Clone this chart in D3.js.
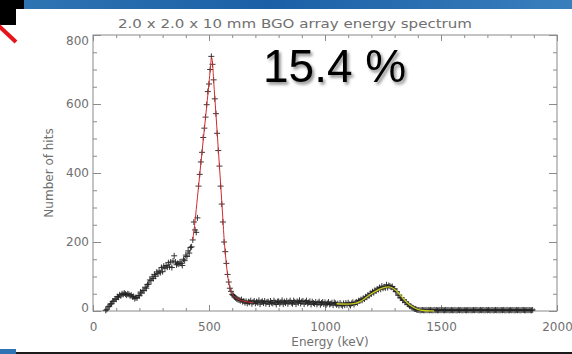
<!DOCTYPE html>
<html>
<head>
<meta charset="utf-8">
<script src="https://cdn.jsdelivr.net/npm/d3@7/dist/d3.min.js"></script>
<style>
  html, body { margin: 0; padding: 0; background: #fff; overflow: hidden; }
  text { font-family: "DejaVu Sans", sans-serif; }
</style>
</head>
<body>
<svg id="chart" width="572" height="354"></svg>
<script>
// histogram bins: centre of first bin and bin width (keV)
const BIN_START = 55;
const BIN_WIDTH = 5;

// counts per bin, 20 bins (100 keV) per row
const hits = [
  2, 5, 12, 14, 20, 21, 28, 29, 35, 34, 42, 40, 47, 44, 50, 48, 52, 49, 46, 50,
  48, 44, 46, 41, 42, 36, 39, 38, 45, 44, 55, 52, 60, 59, 69, 66, 77, 78, 90, 88,
  99, 94, 106, 101, 113, 108, 116, 111, 126, 114, 130, 124, 132, 127, 140, 128, 142, 126, 145, 160,
  142, 134, 138, 136, 142, 138, 132, 150, 146, 162, 158, 174, 168, 184, 186, 206, 258, 235, 228, 270,
  362, 396, 432, 460, 503, 530, 562, 598, 636, 658, 700, 738, 715, 670, 615, 572, 515, 465, 420, 362,
  310, 258, 200, 172, 138, 106, 84, 66, 57, 48, 45, 41, 38, 35, 33, 32, 30, 33, 27, 29,
  24, 28, 22, 27, 25, 30, 21, 26, 29, 22, 27, 24, 31, 20, 26, 28, 23, 29, 21, 26,
  27, 20, 29, 24, 22, 30, 25, 19, 27, 28, 21, 25, 31, 20, 27, 23, 29, 21, 26, 30,
  24, 21, 30, 26, 20, 28, 24, 31, 22, 27, 29, 20, 26, 30, 22, 25, 28, 19, 27, 23,
  21, 26, 19, 24, 27, 18, 23, 26, 20, 25, 18, 22, 26, 19, 21, 24, 17, 25, 22, 18,
  21, 16, 23, 18, 15, 22, 17, 23, 18, 24, 19, 16, 22, 25, 19, 24, 26, 24, 30, 29,
  33, 31, 37, 35, 41, 40, 46, 44, 51, 50, 56, 53, 60, 58, 64, 62, 68, 63, 72, 66,
  70, 67, 76, 68, 74, 72, 69, 71, 64, 64, 56, 56, 46, 46, 38, 38, 31, 32, 25, 26,
  20, 19, 14, 14, 10, 9, 6, 6, 4, 3, 3, 2, 2, 3, 2, 2, 3, 2, 3, 2,
  3, 2, 2, 3, 2, 3, 2, 2, 3, 2, 3, 2, 2, 3, 2, 3, 2, 2, 3, 2,
  2, 3, 2, 2, 3, 2, 3, 2, 2, 3, 2, 2, 3, 2, 3, 2, 2, 3, 2, 3,
  3, 2, 2, 3, 2, 3, 2, 2, 3, 2, 3, 2, 2, 3, 2, 2, 3, 2, 3, 2,
  2, 3, 2, 3, 2, 2, 3, 2, 2, 3, 2, 3, 2, 2, 3, 2, 3, 2, 2, 3,
  3, 2, 2, 3, 2, 3, 2, 2, 3
];

// photopeak fit (red), [keV, hits]
const peakFit = [
  [430, 205], [440, 262], [450, 328], [460, 395], [470, 461], [480, 527],
  [490, 594], [500, 660], [506, 705], [511, 735], [516, 712], [520, 668],
  [530, 570], [540, 470], [550, 370], [560, 265], [565, 210], [570, 170],
  [580, 105], [590, 68], [600, 50], [610, 41], [620, 36], [640, 30],
  [660, 27], [690, 24]
];

// sum peak fit (yellow), [keV, hits]
const sumFit = [
  [1050, 21], [1100, 20], [1130, 22], [1150, 27], [1175, 38], [1200, 50],
  [1225, 60], [1250, 67], [1275, 70], [1300, 63], [1325, 46], [1350, 27],
  [1375, 13], [1400, 5], [1425, 1.5], [1450, 0.5], [1470, 0]
];

const xTicks = [0, 500, 1000, 1500, 2000];
const yTicks = [0, 200, 400, 600, 800];
const xMinor = d3.range(0, 2001, 100);
const yMinor = d3.range(0, 801, 50);

const chartTitle = "2.0 x 2.0 x 10 mm BGO array energy spectrum";
const xTitle = "Energy (keV)";
const yTitle = "Number of hits";
const resolution = "15.4 %";

const svg = d3.select("#chart");
const plotL = 93, plotR = 557, plotT = 35, plotB = 311;
const x = d3.scaleLinear().domain([0, 2000]).range([plotL, plotR]);
const y = d3.scaleLinear().domain([0, 800]).range([plotB, plotT]);

const axisColor = "#8a8a8a";
const textColor = "#707070";

// slide decoration around the picture
const defs = svg.append("defs");
const grad = defs.append("linearGradient").attr("id", "banner");
grad.append("stop").attr("offset", "0%").attr("stop-color", "#2f74b2");
grad.append("stop").attr("offset", "45%").attr("stop-color", "#1b5fa6");
grad.append("stop").attr("offset", "100%").attr("stop-color", "#3a7fbd");
const shadow = defs.append("filter").attr("id", "shadow")
  .attr("x", "-10%").attr("y", "-10%").attr("width", "130%").attr("height", "140%");
shadow.append("feDropShadow").attr("dx", 2).attr("dy", 2.5)
  .attr("stdDeviation", 1.6).attr("flood-color", "#000").attr("flood-opacity", 0.45);

svg.append("rect").attr("x", 24).attr("y", 0).attr("width", 548).attr("height", 9).attr("fill", "url(#banner)");
svg.append("rect").attr("x", 0).attr("y", 0).attr("width", 24).attr("height", 9).attr("fill", "#000");
svg.append("rect").attr("x", 0).attr("y", 9).attr("width", 16).attr("height", 16).attr("fill", "#000");
svg.append("line").attr("x1", -2).attr("y1", 25).attr("x2", 16).attr("y2", 42)
  .attr("stroke", "#e8141c").attr("stroke-width", 4);
svg.append("rect").attr("x", 0).attr("y", 349).attr("width", 16).attr("height", 5).attr("fill", "#2f74b2");
svg.append("rect").attr("x", 16).attr("y", 352).attr("width", 556).attr("height", 2).attr("fill", "#1a1a1a");

// title
svg.append("text")
  .attr("x", 118).attr("y", 28)
  .attr("textLength", 354).attr("lengthAdjust", "spacingAndGlyphs")
  .attr("font-size", 13).attr("fill", textColor)
  .text(chartTitle);

// frame
svg.append("rect")
  .attr("x", plotL).attr("y", plotT)
  .attr("width", plotR - plotL).attr("height", plotB - plotT)
  .attr("fill", "none").attr("stroke", axisColor).attr("stroke-width", 1);

function styleAxis(g) {
  g.select(".domain").remove();
  g.selectAll(".tick line").attr("stroke", axisColor);
  g.selectAll("text").attr("fill", textColor).attr("font-size", 12)
    .attr("font-family", "DejaVu Sans, sans-serif");
}

// bottom and top axes
svg.append("g").attr("transform", `translate(0,${plotB})`)
  .call(d3.axisBottom(x).tickValues(xMinor).tickSize(-3).tickFormat(""))
  .call(styleAxis);
svg.append("g").attr("transform", `translate(0,${plotB})`)
  .call(d3.axisBottom(x).tickValues(xTicks).tickSize(-6).tickPadding(11).tickFormat(d3.format("d")))
  .call(styleAxis);
svg.append("g").attr("transform", `translate(0,${plotT})`)
  .call(d3.axisTop(x).tickValues(xMinor).tickSize(-3).tickFormat(""))
  .call(styleAxis);
svg.append("g").attr("transform", `translate(0,${plotT})`)
  .call(d3.axisTop(x).tickValues(xTicks).tickSize(-6).tickFormat(""))
  .call(styleAxis);

// left and right axes
svg.append("g").attr("transform", `translate(${plotL},0)`)
  .call(d3.axisLeft(y).tickValues(yMinor).tickSize(-4).tickFormat(""))
  .call(styleAxis);
const yAxis = svg.append("g").attr("transform", `translate(${plotL},0)`)
  .call(d3.axisLeft(y).tickValues(yTicks).tickSize(-8).tickPadding(4).tickFormat(d3.format("d")))
  .call(styleAxis);
yAxis.selectAll(".tick text").attr("dy", d => d === 800 ? "0.82em" : d === 0 ? "0em" : "0.32em");
svg.append("g").attr("transform", `translate(${plotR},0)`)
  .call(d3.axisRight(y).tickValues(yMinor).tickSize(-4).tickFormat(""))
  .call(styleAxis);
svg.append("g").attr("transform", `translate(${plotR},0)`)
  .call(d3.axisRight(y).tickValues(yTicks).tickSize(-8).tickFormat(""))
  .call(styleAxis);

// axis titles
svg.append("text")
  .attr("x", 330).attr("y", 346)
  .attr("text-anchor", "middle").attr("font-size", 12).attr("fill", textColor)
  .text(xTitle);
svg.append("text")
  .attr("transform", `translate(53,${(plotT + plotB) / 2}) rotate(-90)`)
  .attr("text-anchor", "middle").attr("font-size", 12).attr("fill", textColor)
  .text(yTitle);

// data markers
const points = hits.map((h, i) => ({ e: BIN_START + i * BIN_WIDTH, h }));
svg.append("g")
  .selectAll("path")
  .data(points)
  .join("path")
  .attr("transform", d => `translate(${x(d.e)},${y(d.h)})`)
  .attr("d", "M-3,0H3M0,-3V3")
  .attr("stroke", "#222")
  .attr("stroke-width", 0.9)
  .attr("fill", "none");

// fit curves
const line = d3.line().x(d => x(d[0])).y(d => y(d[1])).curve(d3.curveMonotoneX);
svg.append("path").datum(peakFit)
  .attr("d", line).attr("fill", "none")
  .attr("stroke", "#d42a2a").attr("stroke-width", 1);
svg.append("path").datum(sumFit)
  .attr("d", line).attr("fill", "none")
  .attr("stroke", "#c9cc1e").attr("stroke-width", 1.3);

// resolution label
svg.append("text")
  .attr("x", 263).attr("y", 82)
  .attr("font-size", 46).attr("fill", "#000")
  .attr("filter", "url(#shadow)")
  .style("font-family", "'Liberation Sans', Arial, sans-serif")
  .text(resolution);
</script>
</body>
</html>
